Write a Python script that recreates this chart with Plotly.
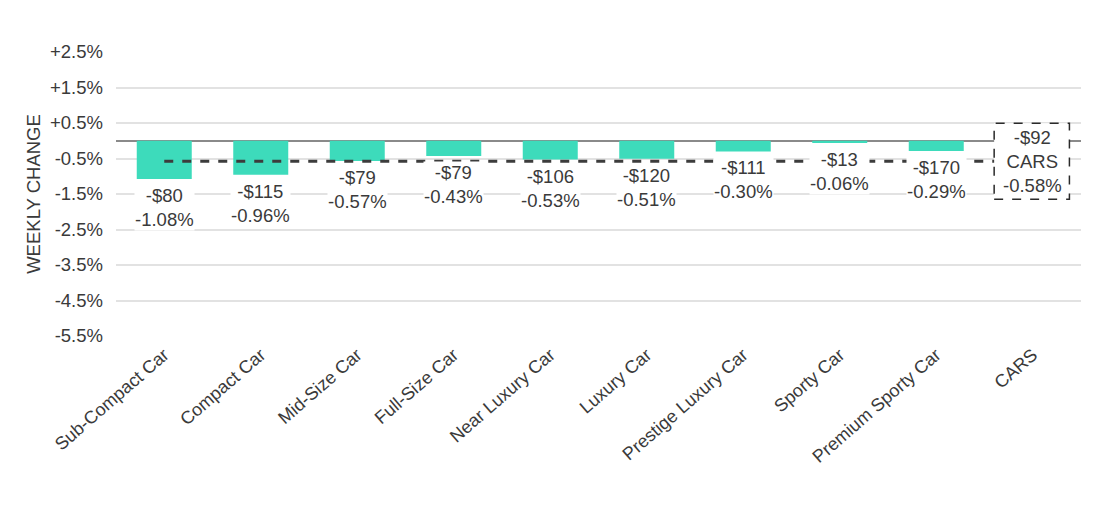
import plotly.graph_objects as go

categories = ["Sub-Compact Car", "Compact Car", "Mid-Size Car", "Full-Size Car",
              "Near Luxury Car", "Luxury Car", "Prestige Luxury Car", "Sporty Car",
              "Premium Sporty Car", "CARS"]
pct_change = [-1.08, -0.96, -0.57, -0.43, -0.53, -0.51, -0.30, -0.06, -0.29]
dollar_change = [-80, -115, -79, -79, -106, -120, -111, -13, -170]
total_pct = -0.58
total_dollar = -92
tick_vals = [2.5, 1.5, 0.5, -0.5, -1.5, -2.5, -3.5, -4.5, -5.5]
tick_text = ["+2.5%", "+1.5%", "+0.5%", "-0.5%", "-1.5%", "-2.5%", "-3.5%", "-4.5%", "-5.5%"]

FONT = "Liberation Sans, Arial, sans-serif"
TXT = "#3a3a3a"

fig = go.Figure()
fig.add_trace(go.Bar(
    x=categories[:-1], y=pct_change, marker_color="#3ddbbb",
    marker_line_width=0, width=0.57, showlegend=False, hoverinfo="skip"))
fig.add_trace(go.Scatter(
    x=categories, y=[total_pct] * len(categories), mode="lines",
    line=dict(color="#3c3c3c", width=3, dash="dash"),
    showlegend=False, hoverinfo="skip"))

def fmt_d(v):
    return ("-$" if v < 0 else "$") + f"{abs(v)}"

for c, p, d in zip(categories[:-1], pct_change, dollar_change):
    fig.add_annotation(x=c, y=p, text=f"{fmt_d(d)}<br>{p:.2f}%",
                       showarrow=False, yanchor="top", yshift=-5,
                       bgcolor="white", borderpad=0,
                       font=dict(family=FONT, size=18.5, color=TXT))

# total box
fig.add_shape(type="rect", xref="x", yref="y",
              x0=9 - 0.4, x1=9 + 0.38, y0=total_pct - 1.07, y1=total_pct + 1.07,
              line=dict(color="#2a2a2a", width=1.5, dash="dash"),
              fillcolor="white", layer="above")
fig.add_annotation(x=categories[-1], y=total_pct,
                   text=f"{fmt_d(total_dollar)}<br>CARS<br>{total_pct:.2f}%",
                   showarrow=False, yanchor="middle",
                   font=dict(family=FONT, size=18.5, color=TXT))

fig.update_layout(
    width=1113, height=523,
    margin=dict(l=116, r=32, t=52, b=187),
    paper_bgcolor="white", plot_bgcolor="white",
    font=dict(family=FONT, size=18, color=TXT),
)
fig.update_yaxes(range=[-5.5, 2.5], tickvals=tick_vals, ticktext=tick_text,
                 showgrid=True, gridcolor="#e2e2e2", gridwidth=1.5,
                 zeroline=True, zerolinecolor="#8a8a8a", zerolinewidth=1.5,
                 tickfont=dict(size=18.5), ticks="", ticklen=0,
                 ticklabelstandoff=12,
                 title=dict(text="WEEKLY CHANGE", font=dict(size=18.5), standoff=4))
fig.update_xaxes(tickangle=-41, tickfont=dict(size=18), showgrid=False,
                 range=[-0.5, 9.5], showline=False, ticklabelstandoff=4)

fig.write_html("out.html")
